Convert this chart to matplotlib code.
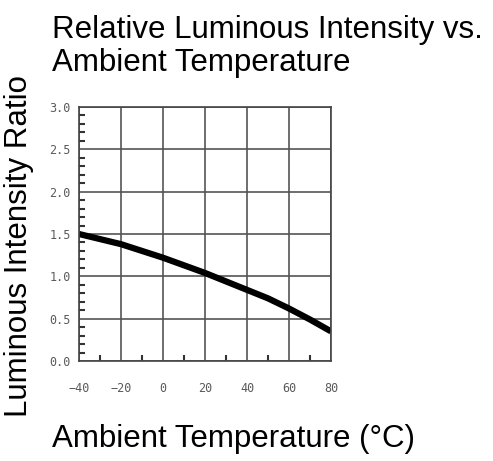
import matplotlib.pyplot as plt
import numpy as np

# Relative luminous intensity vs ambient temperature
temperature = [-40, -30, -20, -10, 0, 10, 20, 30, 40, 50, 60, 70, 80]
intensity = [1.50, 1.44, 1.38, 1.30, 1.22, 1.13, 1.04, 0.94, 0.84, 0.74, 0.62, 0.49, 0.35]

x_ticks = [-40, -20, 0, 20, 40, 60, 80]
y_ticks = [0.0, 0.5, 1.0, 1.5, 2.0, 2.5, 3.0]

title_lines = ["Relative Luminous Intensity vs.", "Ambient Temperature"]

fig = plt.figure(figsize=(4.93, 4.61), dpi=100)
ax = fig.add_axes([79 / 493, 1 - 361 / 461, 252 / 493, 254 / 461])

ax.plot(temperature, intensity, color="black", linewidth=4.5, solid_capstyle="butt")
ax.set_xlim(-40, 80)
ax.set_ylim(0, 3)
ax.set_xticks(x_ticks)
ax.set_yticks(y_ticks)
ax.set_xticks(np.arange(-30, 80, 20), minor=True)
ax.set_yticks(np.arange(0, 3.01, 0.1), minor=True)
ax.set_xticklabels([str(t).replace("-", "\u2212") for t in x_ticks], family="DejaVu Sans Mono")
ax.set_yticklabels([f"{v:.1f}" for v in y_ticks], family="DejaVu Sans Mono")

ax.grid(True, which="major", color="#555555", linewidth=1.2)
ax.tick_params(which="major", direction="in", length=0, labelsize=8.5,
               labelcolor="#5a5a5a")
ax.tick_params(axis="x", which="major", pad=15)
ax.tick_params(axis="y", which="major", pad=6)
ax.tick_params(which="minor", direction="in", length=4, width=1.5, color="#333333")
ax.tick_params(top=False, right=False)
for spine in ax.spines.values():
    spine.set_color("#444444")
    spine.set_linewidth(1.2)

font = "Liberation Sans"
size = 22.5
fig.text(52 / 493, 1 - 38 / 461, title_lines[0], fontsize=size, family=font,
         ha="left", va="baseline")
fig.text(52 / 493, 1 - 71 / 461, title_lines[1], fontsize=size, family=font,
         ha="left", va="baseline")
fig.text(19 / 493, 1 - 246 / 461, "Luminous Intensity Ratio", fontsize=size, family=font,
         rotation=90, ha="center", va="center")
fig.text(52 / 493, 1 - 447 / 461, "Ambient Temperature (°C)", fontsize=size, family=font,
         ha="left", va="baseline")

fig.savefig("out.png", dpi=100)
